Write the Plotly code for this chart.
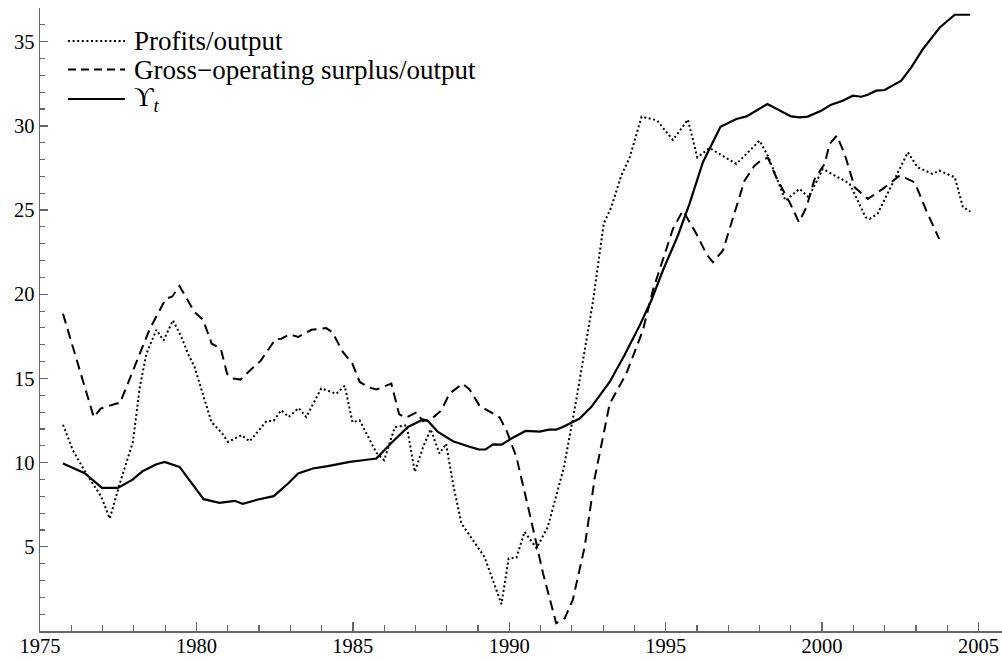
import plotly.graph_objects as go

# ---- data ----
upsilon_years = [1975.735, 1976.43, 1976.98, 1977.49, 1977.96, 1978.28, 1978.70, 1978.98, 1979.46,
                 1980.23, 1980.74, 1981.22, 1981.48, 1981.97, 1982.47, 1982.93, 1983.25, 1983.72,
                 1984.20, 1984.90, 1985.32, 1985.75, 1986.23, 1986.76, 1987.24, 1987.40, 1987.72,
                 1988.20, 1988.73, 1989.02, 1989.24, 1989.48, 1989.75, 1990.07, 1990.52, 1990.97,
                 1991.27, 1991.50, 1991.71, 1992.25, 1992.62, 1992.89, 1993.21, 1993.69, 1994.17,
                 1994.54, 1994.91, 1995.39, 1995.76, 1996.19, 1996.75, 1997.26, 1997.58, 1997.89,
                 1998.25, 1999.01, 1999.28, 1999.54, 1999.97, 2000.29, 2000.66, 2000.98, 2001.25,
                 2001.46, 2001.73, 2002.00, 2002.53, 2002.85, 2003.22, 2003.76, 2004.24, 2004.73]
upsilon_values = [9.95, 9.37, 8.50, 8.50, 8.99, 9.49, 9.89, 10.04, 9.75,
                  7.83, 7.61, 7.73, 7.55, 7.81, 8.01, 8.76, 9.35, 9.65,
                  9.79, 10.04, 10.14, 10.24, 11.17, 12.12, 12.56, 12.47, 11.82,
                  11.27, 10.94, 10.79, 10.78, 11.08, 11.07, 11.43, 11.88, 11.84,
                  11.96, 11.96, 12.12, 12.62, 13.30, 14.00, 14.79, 16.41, 18.15,
                  19.63, 21.41, 23.49, 25.37, 27.84, 29.95, 30.41, 30.56, 30.90,
                  31.30, 30.56, 30.50, 30.55, 30.90, 31.26, 31.49, 31.79, 31.73,
                  31.85, 32.09, 32.13, 32.68, 33.47, 34.56, 35.84, 36.60, 36.60]

gos_years = [1975.735, 1976.72, 1976.94, 1977.47, 1977.55, 1978.08, 1978.51, 1979.02, 1979.22,
             1979.46, 1979.94, 1980.21, 1980.49, 1980.78, 1980.98, 1981.19, 1981.41, 1981.77,
             1982.05, 1982.53, 1982.72, 1982.98, 1983.25, 1983.68, 1983.94, 1984.15, 1984.35,
             1984.68, 1984.98, 1985.22, 1985.48, 1985.75, 1986.23, 1986.48, 1986.69, 1987.04,
             1987.24, 1987.56, 1987.83, 1988.09, 1988.51, 1988.73, 1989.05, 1989.40, 1989.69,
             1989.91, 1990.23, 1990.65, 1991.08, 1991.50, 1991.77, 1992.03, 1992.41, 1992.73,
             1993.21, 1993.74, 1994.27, 1994.59, 1994.91, 1995.23, 1995.55, 1995.98, 1996.30,
             1996.51, 1996.83, 1997.15, 1997.52, 1997.84, 1998.06, 1998.27, 1998.53, 1998.96,
             1999.26, 1999.50, 1999.76, 2000.08, 2000.24, 2000.47, 2000.72, 2001.04, 2001.46,
             2001.94, 2002.37, 2002.48, 2002.96, 2003.33, 2003.74]
gos_values = [18.84, 12.69, 13.21, 13.52, 13.51, 15.97, 17.95, 19.73, 19.85,
              20.49, 18.94, 18.49, 17.06, 16.77, 15.28, 14.99, 14.93, 15.58,
              16.04, 17.34, 17.36, 17.62, 17.46, 17.89, 17.95, 17.99, 17.73,
              16.57, 15.90, 14.79, 14.49, 14.34, 14.69, 12.87, 12.66, 12.99,
              12.46, 12.66, 13.11, 14.10, 14.69, 14.35, 13.37, 12.99, 12.69,
              11.92, 10.32, 6.98, 3.42, 0.46, 0.75, 1.84, 5.00, 9.07,
              13.50, 15.28, 17.85, 20.23, 22.10, 23.88, 24.97, 23.59, 22.40,
              21.90, 22.60, 24.57, 26.75, 27.64, 27.97, 28.10, 26.95, 25.46,
              24.28, 25.17, 26.85, 27.74, 28.93, 29.42, 28.33, 26.35, 25.66,
              26.26, 26.85, 27.05, 26.65, 24.97, 23.29]

profit_years = [1975.735, 1976.05, 1976.48, 1976.96, 1977.23, 1977.55, 1977.97, 1978.19, 1978.40,
                1978.72, 1978.95, 1979.25, 1979.52, 1979.73, 1979.94, 1980.21, 1980.48, 1980.80,
                1981.01, 1981.44, 1981.70, 1982.24, 1982.47, 1982.71, 1982.95, 1983.27, 1983.51,
                1983.99, 1984.47, 1984.74, 1984.99, 1985.22, 1985.75, 1986.00, 1986.34, 1986.72,
                1986.98, 1987.26, 1987.49, 1987.77, 1987.98, 1988.20, 1988.47, 1989.21, 1989.75,
                1989.98, 1990.23, 1990.49, 1990.87, 1991.23, 1991.74, 1992.14, 1992.67, 1993.02,
                1993.26, 1993.58, 1993.85, 1994.23, 1994.72, 1995.23, 1995.71, 1996.01, 1996.40,
                1997.26, 1998.00, 1998.29, 1998.83, 1999.28, 1999.57, 2000.02, 2000.88, 2001.39,
                2001.52, 2001.77, 2002.74, 2003.05, 2003.53, 2003.74, 2004.24, 2004.50, 2004.74]
profit_values = [12.25, 10.74, 9.35, 7.97, 6.68, 8.76, 11.23, 14.49, 16.47,
                 17.89, 17.26, 18.45, 17.46, 16.47, 15.68, 14.10, 12.41, 11.79,
                 11.23, 11.63, 11.27, 12.46, 12.49, 13.11, 12.72, 13.24, 12.71,
                 14.41, 14.09, 14.56, 12.40, 12.51, 10.59, 10.14, 12.10, 12.22,
                 9.45, 11.00, 11.98, 10.54, 11.13, 8.76, 6.39, 4.39, 1.60,
                 4.31, 4.36, 5.89, 4.92, 6.17, 9.67, 13.70, 19.51, 24.20,
                 25.17, 27.05, 28.13, 30.55, 30.33, 29.16, 30.37, 28.13, 28.68,
                 27.74, 29.12, 28.13, 25.56, 26.26, 25.76, 27.44, 26.57, 24.57,
                 24.48, 24.77, 28.43, 27.54, 27.15, 27.34, 26.95, 25.17, 24.91]

x_ticks = [1975, 1980, 1985, 1990, 1995, 2000, 2005]
y_ticks = [5, 10, 15, 20, 25, 30, 35]
legend_labels = ["Profits/output", "Gross\u2212operating surplus/output", "\u03d2<sub><i>t</i></sub>"]

FONT = "Liberation Serif, DejaVu Serif, Times New Roman, serif"
AXIS_COLOR = "#666666"

FIG_W, FIG_H = 1002, 661
L, T, W, H = 40, 8, 962, 623          # plot area in page pixels


def px(x):
    return (x - L) / W


def py(y):
    return (T + H - y) / H


fig = go.Figure()
fig.add_trace(go.Scatter(x=profit_years, y=profit_values, mode="lines",
                         line=dict(color="black", width=2, dash="2px,2.6px"),
                         name="Profits/output", showlegend=False))
fig.add_trace(go.Scatter(x=gos_years, y=gos_values, mode="lines",
                         line=dict(color="black", width=2, dash="10px,6px"),
                         name="Gross-operating surplus/output", showlegend=False))
fig.add_trace(go.Scatter(x=upsilon_years, y=upsilon_values, mode="lines",
                         line=dict(color="black", width=2.2),
                         name="Upsilon_t", showlegend=False))

# manual legend (long line samples like the reference)
rows = [41, 69.5, 99]
dashes = ["2px,2.6px", "8px,5px", "solid"]
for lab, yy, d in zip(legend_labels, rows, dashes):
    fig.add_shape(type="line", xref="paper", yref="paper",
                  x0=px(68), x1=px(125), y0=py(yy), y1=py(yy),
                  line=dict(color="black", width=2, dash=d))
    fig.add_annotation(xref="paper", yref="paper", x=px(132), y=py(yy),
                       text=lab, showarrow=False, xanchor="left", yanchor="middle",
                       font=dict(family=FONT, size=27, color="black"))

fig.update_xaxes(range=[1975, 2005.75], tickvals=x_ticks, ticks="inside", ticklen=9,
                 tickwidth=1.3, tickcolor=AXIS_COLOR, showline=True, linecolor=AXIS_COLOR,
                 linewidth=1.5, showgrid=False, zeroline=False, ticklabelstandoff=-4,
                 minor=dict(ticks="inside", ticklen=6, dtick=1, tick0=1975,
                            tickcolor=AXIS_COLOR, tickwidth=1.1, showgrid=False),
                 tickfont=dict(family=FONT, size=20.5, color="black"))
fig.update_yaxes(range=[0, 37], tickvals=y_ticks, ticks="inside", ticklen=8,
                 tickwidth=1.3, tickcolor=AXIS_COLOR, showline=True, linecolor=AXIS_COLOR,
                 linewidth=1.5, showgrid=False, zeroline=False,
                 minor=dict(ticks="inside", ticklen=5, dtick=1, tick0=0,
                            tickcolor=AXIS_COLOR, tickwidth=1.1, showgrid=False),
                 tickfont=dict(family=FONT, size=20.5, color="black"))

fig.update_layout(width=FIG_W, height=FIG_H,
                  margin=dict(l=L, r=FIG_W - L - W, t=T, b=FIG_H - T - H, autoexpand=False),
                  paper_bgcolor="white", plot_bgcolor="white", showlegend=False)

# remove the default 8px page margin so the figure fills the 1002x661 window
fig.write_html("out.html",
               config={"displayModeBar": False, "staticPlot": True},
               post_script="document.body.style.margin='0';"
                           "document.body.style.overflow='hidden';")
